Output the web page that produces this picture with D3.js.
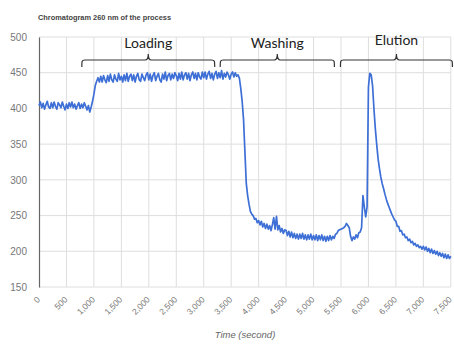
<!DOCTYPE html>
<html><head><meta charset="utf-8">
<script src="https://cdn.jsdelivr.net/npm/d3@7"></script>
<style>
html,body{margin:0;padding:0;background:#fff;}
svg{display:block;}
</style></head>
<body>
<svg id="chart" width="454" height="344"></svg>
<script>
// Time points (seconds), every 25 s from 0 to 7500
const timeSec = [
0,25,50,75,100,125,150,175,200,225,250,275,300,325,350,375,400,425,450,475,
500,525,550,575,600,625,650,675,700,725,750,775,800,825,850,875,900,925,950,975,
1000,1025,1050,1075,1100,1125,1150,1175,1200,1225,1250,1275,1300,1325,1350,1375,1400,1425,1450,1475,
1500,1525,1550,1575,1600,1625,1650,1675,1700,1725,1750,1775,1800,1825,1850,1875,1900,1925,1950,1975,
2000,2025,2050,2075,2100,2125,2150,2175,2200,2225,2250,2275,2300,2325,2350,2375,2400,2425,2450,2475,
2500,2525,2550,2575,2600,2625,2650,2675,2700,2725,2750,2775,2800,2825,2850,2875,2900,2925,2950,2975,
3000,3025,3050,3075,3100,3125,3150,3175,3200,3225,3250,3275,3300,3325,3350,3375,3400,3425,3450,3475,
3500,3525,3550,3575,3600,3625,3650,3675,3700,3725,3750,3775,3800,3825,3850,3875,3900,3925,3950,3975,
4000,4025,4050,4075,4100,4125,4150,4175,4200,4225,4250,4275,4300,4325,4350,4375,4400,4425,4450,4475,
4500,4525,4550,4575,4600,4625,4650,4675,4700,4725,4750,4775,4800,4825,4850,4875,4900,4925,4950,4975,
5000,5025,5050,5075,5100,5125,5150,5175,5200,5225,5250,5275,5300,5325,5350,5375,5400,5425,5450,5475,
5500,5525,5550,5575,5600,5625,5650,5675,5700,5725,5750,5775,5800,5825,5850,5875,5900,5925,5950,5975,
6000,6025,6050,6075,6100,6125,6150,6175,6200,6225,6250,6275,6300,6325,6350,6375,6400,6425,6450,6475,
6500,6525,6550,6575,6600,6625,6650,6675,6700,6725,6750,6775,6800,6825,6850,6875,6900,6925,6950,6975,
7000,7025,7050,7075,7100,7125,7150,7175,7200,7225,7250,7275,7300,7325,7350,7375,7400,7425,7450,7475,
7500
];
// Absorbance at 260 nm (mAU)
const absorbance = [
404,409,401,407,399,405,410,402,400,408,401,409,403,399,408,405,401,409,403,398,
406,400,408,402,409,401,406,399,404,408,400,406,401,408,403,398,404,395,402,410,
420,432,438,443,437,445,437,446,440,436,446,438,448,440,437,447,441,438,449,440,
445,437,447,439,449,438,445,448,439,447,437,445,449,440,438,448,443,439,447,450,
440,448,438,446,450,439,445,449,440,437,448,441,451,439,446,449,440,448,442,450,
446,439,449,441,451,440,447,450,441,449,439,447,451,442,449,440,450,444,441,451,
443,451,441,448,452,442,449,440,448,452,442,450,443,453,441,449,444,451,447,441,
448,451,444,450,445,447,442,428,410,385,340,295,278,266,256,252,250,245,246,240,
243,237,242,234,239,232,238,231,236,229,237,247,231,249,230,236,227,232,225,230,
229,222,228,220,227,219,225,218,224,217,224,218,225,217,223,216,223,217,224,216,
222,216,223,215,222,216,223,215,221,214,221,215,222,216,221,218,224,225,229,230,
231,232,233,235,239,236,233,221,215,220,217,223,219,226,227,233,278,262,248,262,
430,449,447,432,400,372,350,330,316,304,295,288,280,273,267,262,257,252,248,244,
242,235,235,228,229,223,224,219,220,215,217,212,214,209,211,207,209,205,207,203,
207,202,206,200,204,198,203,197,201,196,200,194,198,193,197,191,196,190,195,190,
193
];
// Axis ticks
const yTicks = [150,200,250,300,350,400,450,500];
const xTicks = [0,500,1000,1500,2000,2500,3000,3500,4000,4500,5000,5500,6000,6500,7000,7500];
// Process phases (annotation brackets), in seconds
const phaseNames = ["Loading","Washing","Elution"];
const phaseStart = [780,3300,5490];
const phaseEnd = [3200,5380,7530];

const svg = d3.select("#chart");
const mL = 39, mR = 450.8, mT = 37, mB = 287;
const x = d3.scaleLinear().domain([0,7500]).range([mL,mR]);
const y = d3.scaleLinear().domain([150,500]).range([mB,mT]);

// Title
svg.append("text").attr("x",38).attr("y",20)
  .attr("font-family","Liberation Sans, Arial, sans-serif")
  .attr("font-size","7.4px").attr("font-weight","bold").attr("fill","#444")
  .text("Chromatogram 260 nm of the process");

// grid
const g = svg.append("g");
g.selectAll("line.h").data(yTicks).join("line")
  .attr("x1",mL).attr("x2",mR).attr("y1",d=>y(d)).attr("y2",d=>y(d))
  .attr("stroke","#dedede").attr("stroke-width",1);
g.selectAll("line.v").data(xTicks.slice(1)).join("line")
  .attr("x1",d=>x(d)).attr("x2",d=>x(d)).attr("y1",mT).attr("y2",mB)
  .attr("stroke","#dedede").attr("stroke-width",1);

// y axis
const yAxis = d3.axisLeft(y).tickValues(yTicks).tickSize(0).tickPadding(12);
const ya = svg.append("g").attr("transform",`translate(${mL},0)`).call(yAxis);
ya.select(".domain").attr("stroke","#666").attr("stroke-width",1.2);
ya.selectAll("text").attr("font-family","Liberation Sans, Arial, sans-serif")
  .attr("font-size","10px").attr("fill","#777");

// x axis labels
const xAxis = d3.axisBottom(x).tickValues(xTicks).tickSize(0).tickFormat(d3.format(","));
const xa = svg.append("g").attr("transform",`translate(0,${mB})`).call(xAxis);
xa.select(".domain").remove();
xa.selectAll("text")
  .attr("font-family","Liberation Sans, Arial, sans-serif")
  .attr("font-size","8.5px").attr("fill","#777")
  .attr("text-anchor","end").attr("dy","0.35em").attr("y",0)
  .attr("transform","translate(-1,11) rotate(-45)");

// axis title
svg.append("text").attr("x",245).attr("y",338).attr("text-anchor","middle")
  .attr("font-family","Liberation Sans, Arial, sans-serif")
  .attr("font-size","9.5px").attr("font-style","italic").attr("fill","#666")
  .text("Time (second)");

// line
const data = timeSec.map((t,i)=>({t, v:absorbance[i]}));
svg.append("path").datum(data)
  .attr("fill","none").attr("stroke","#3d6fd6").attr("stroke-width",1.7)
  .attr("stroke-linejoin","round")
  .attr("d", d3.line().x(d=>x(d.t)).y(d=>y(d.v)));

// brackets
const by = 60;
phaseNames.forEach((name,i)=>{
  const x1 = x(phaseStart[i]), x2 = x(phaseEnd[i]), m = (x1+x2)/2;
  const p = `M${x1},${by+7} C${x1},${by+1} ${x1},${by} ${x1+3},${by} L${m-3},${by} C${m-1},${by} ${m},${by-1} ${m},${by-6} C${m},${by-1} ${m+1},${by} ${m+3},${by} L${x2-3},${by} C${x2},${by} ${x2},${by+1} ${x2},${by+7}`;
  svg.append("path").attr("d",p).attr("fill","none").attr("stroke","#333").attr("stroke-width",1.2);
  svg.append("text").attr("x",m).attr("y", i===2 ? 45 : 48).attr("text-anchor","middle")
    .attr("font-family","Lato, Open Sans, sans-serif").attr("font-size","14px").attr("fill","#222")
    .text(name);
});
</script>
</body></html>
